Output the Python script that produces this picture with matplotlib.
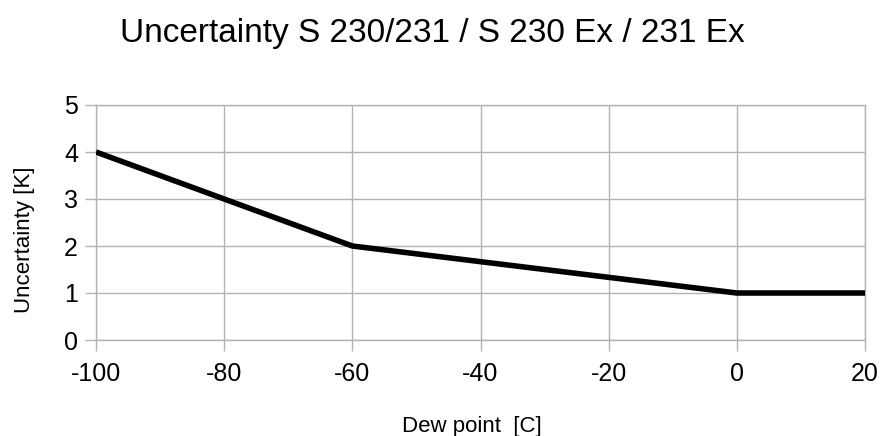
import matplotlib
matplotlib.use("Agg")
import matplotlib.pyplot as plt

dew_point = [-100, -60, 0, 20]
uncertainty = [4, 2, 1, 1]
x_ticks = [-100, -80, -60, -40, -20, 0, 20]
y_ticks = [0, 1, 2, 3, 4, 5]

plt.rcParams['font.family'] = ['Liberation Sans', 'DejaVu Sans']
plt.rcParams['axes.unicode_minus'] = False

W, H = 882, 436
fig = plt.figure(figsize=(W / 100, H / 100), dpi=100)
ax = fig.add_axes([96 / W, (H - 340) / H, (865 - 96) / W, (340 - 105) / H])
ax.plot(dew_point, uncertainty, color='black', linewidth=4, solid_capstyle='butt', zorder=3)
ax.set_xlim(-100, 20)
ax.set_ylim(0, 5)
ax.set_xticks(x_ticks)
ax.set_yticks(y_ticks)
ax.set_xticklabels([str(v) for v in x_ticks])
ax.set_yticklabels([str(v) for v in y_ticks])
ax.grid(True, color='#b3b3b3', linewidth=1)
for s in ax.spines.values():
    s.set_color('#b3b3b3')
    s.set_linewidth(1)
ax.tick_params(axis='both', labelsize=18, length=8, width=1, direction='out',
               color='#b3b3b3', labelcolor='black')
ax.tick_params(axis='x', pad=8)
ax.tick_params(axis='y', pad=5)
fig.text(472 / W, (H - 432) / H, 'Dew point  [C]', fontsize=16, ha='center', va='baseline')
fig.text(30 / W, (H - 240) / H, 'Uncertainty [K]', fontsize=16, ha='center', va='baseline',
         rotation=90, rotation_mode='anchor')
fig.text(432 / W, (H - 42) / H, 'Uncertainty S 230/231 / S 230 Ex / 231 Ex', fontsize=24,
         ha='center', va='baseline')
fig.savefig('out.png', dpi=100)
